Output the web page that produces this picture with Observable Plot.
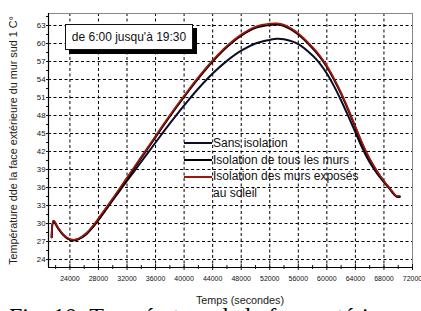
<!DOCTYPE html>
<html><head><meta charset="utf-8">
<script src="https://cdn.jsdelivr.net/npm/d3@7"></script>
<script src="https://cdn.jsdelivr.net/npm/@observablehq/plot@0.6"></script>
<style>
html,body{margin:0;padding:0;background:#fff;}
body{width:421px;height:311px;overflow:hidden;font-family:Arial,"Liberation Sans",sans-serif;}
#wrap{position:relative;width:421px;height:311px;overflow:hidden;}
#wrap svg{position:absolute;left:0;top:0;overflow:visible;}
#box{position:absolute;left:65px;top:24px;width:126px;height:24px;border:1px solid #111;background:#fff;box-shadow:4px 4px 0 #000;font-size:12px;line-height:24px;text-align:center;color:#111;white-space:nowrap;}
.ll{position:absolute;left:184px;width:28px;height:2px;}
.lt{position:absolute;left:213px;font-size:12px;line-height:16.5px;color:#111;white-space:nowrap;}
#cap{position:absolute;left:9px;top:304px;font-family:"Liberation Serif","Times New Roman",serif;font-size:24px;line-height:24px;color:#000;white-space:nowrap;}
</style>
</head><body>
<div id="wrap"></div>
<script>
// Time (s)
const times = [21450, 21700, 22300, 23000, 23700, 24400, 25200, 26200, 27400, 28500, 30000, 31500, 33000, 34500, 36000, 37500, 39000, 40500, 42000, 44000, 46000, 48000, 50000, 52000, 53000, 54000, 56000, 58000, 59000, 60000, 61000, 62000, 63000, 64000, 65000, 66000, 67000, 68000, 68800, 69400, 69800, 70200];
// Sans isolation
const sansIsolation = [27.7, 30.4, 29.3, 28.2, 27.5, 27.2, 27.4, 28.1, 29.7, 31.4, 33.9, 36.3, 38.7, 41.1, 43.5, 45.9, 48.2, 50.4, 52.5, 55.0, 57.1, 58.8, 60.0, 60.6, 60.8, 60.7, 59.9, 58.0, 56.7, 55.0, 52.9, 50.5, 47.9, 45.2, 42.5, 40.2, 38.4, 36.9, 35.8, 34.9, 34.5, 34.4];
// Isolation de tous les murs
const isolationTous = [27.7, 30.4, 29.3, 28.2, 27.5, 27.2, 27.4, 28.2, 29.7, 31.5, 34.0, 36.6, 39.2, 41.8, 44.4, 47.0, 49.5, 51.9, 54.2, 57.0, 59.4, 61.3, 62.6, 63.1, 63.15, 62.9, 61.5, 59.2, 57.8, 56.1, 54.0, 51.6, 48.9, 46.0, 43.1, 40.7, 38.7, 37.0, 35.8, 34.9, 34.5, 34.5];
// Isolation des murs exposés au soleil
const isolationSoleil = [27.7, 30.5, 29.4, 28.3, 27.6, 27.3, 27.5, 28.3, 29.9, 31.7, 34.2, 36.8, 39.4, 42.0, 44.6, 47.2, 49.7, 52.1, 54.4, 57.2, 59.6, 61.5, 62.8, 63.3, 63.35, 63.1, 61.7, 59.4, 58.0, 56.3, 54.2, 51.8, 49.1, 46.2, 43.3, 40.8, 38.8, 37.1, 35.9, 35.0, 34.6, 34.6];

const xTicks = [24000, 28000, 32000, 36000, 40000, 44000, 48000, 52000, 56000, 60000, 64000, 68000, 72000];
const xMinor = [22000, 26000, 30000, 34000, 38000, 42000, 46000, 50000, 54000, 58000, 62000, 66000, 70000];
const xGrid = [24000, 28000, 32000, 36000, 40000, 44000, 48000, 52000, 56000, 60000, 64000, 68000];
const yTicks = [24, 27, 30, 33, 36, 39, 42, 45, 48, 51, 54, 57, 60, 63];
const yMinor = [25.5, 28.5, 31.5, 34.5, 37.5, 40.5, 43.5, 46.5, 49.5, 52.5, 55.5, 58.5, 61.5, 64.5];
const xDomain = [21000, 72000];
const yDomain = [22.67, 65];

const xLabel = "Temps (secondes)";
const yLabel = "Température dde la face extérieure du mur sud 1 C°";
const boxText = "de 6:00 jusqu'à 19:30";
const seriesNames = ["Sans isolation", "Isolation de tous les murs", "Isolation des murs exposés au soleil"];
const seriesColors = ["#0c0c26", "#000000", "#a3160c"];
const caption = "Fig. 10: Température de la face extérieure";

const rows = (vals) => times.map((t, i) => ({t, v: vals[i]}));

const chart = Plot.plot({
  width: 421, height: 311,
  marginLeft: 48, marginRight: 9, marginTop: 13, marginBottom: 44,
  style: {fontFamily: "Arial, 'Liberation Sans', sans-serif", color: "#111", background: "transparent", overflow: "visible"},
  x: {domain: xDomain},
  y: {domain: yDomain},
  marks: [
    Plot.gridX(xGrid, {stroke: "#000", strokeOpacity: 1, strokeWidth: 1, strokeDasharray: "3,2.5"}),
    Plot.gridY(yTicks, {stroke: "#000", strokeOpacity: 1, strokeWidth: 1, strokeDasharray: "3,2.5"}),
    Plot.frame({stroke: "#888"}),
    Plot.ruleX([xDomain[0]], {stroke: "#000", strokeWidth: 1.2}),
    Plot.ruleY([yDomain[0]], {stroke: "#000", strokeWidth: 1.2}),
    Plot.axisX(xTicks, {tickSize: 3, tickPadding: 6, tickFormat: d => String(d), fontSize: 7, label: null}),
    Plot.axisX(xTicks, {tickSize: -3, fill: "none", label: null}),
    Plot.axisX(xMinor, {tickSize: 2, fill: "none", label: null}),
    Plot.axisX(xMinor, {tickSize: -2, fill: "none", label: null}),
    Plot.axisY(yTicks, {tickSize: 2, tickPadding: 1, fontSize: 7.8, label: null}),
    Plot.axisY(yTicks, {tickSize: -2, fill: "none", label: null}),
    Plot.axisY(yMinor.filter(v => v < yDomain[1]), {tickSize: 2, fill: "none", label: null}),
    Plot.text([yLabel], {text: d => d, frameAnchor: "left", textAnchor: "middle", lineAnchor: "middle", rotate: -90, dx: -35, fontSize: 10.8, fill: "#222"}),
    Plot.text([xLabel], {text: d => d, frameAnchor: "bottom", textAnchor: "middle", lineAnchor: "middle", dy: 33, dx: 9.5, fontSize: 10.8, fill: "#222"}),
    Plot.line(rows(sansIsolation), {x: "t", y: "v", stroke: seriesColors[0], strokeWidth: 2, curve: "catmull-rom"}),
    Plot.line(rows(isolationTous), {x: "t", y: "v", stroke: seriesColors[1], strokeWidth: 2, curve: "catmull-rom"}),
    Plot.line(rows(isolationSoleil), {x: "t", y: "v", stroke: seriesColors[2], strokeWidth: 1.7, curve: "catmull-rom"})
  ]
});

const wrap = document.getElementById("wrap");
wrap.appendChild(chart);

const box = document.createElement("div");
box.id = "box"; box.textContent = boxText; wrap.appendChild(box);

const legendTops = [134.5, 151.5, 168];
seriesNames.forEach((name, i) => {
  const l = document.createElement("div");
  l.className = "ll"; l.style.top = (legendTops[i] + 7.5) + "px"; l.style.background = seriesColors[i];
  wrap.appendChild(l);
  const t = document.createElement("div");
  t.className = "lt"; t.style.top = legendTops[i] + "px";
  if (i === 2) { t.innerHTML = "Isolation des murs exposés<br>au soleil"; } else { t.textContent = name; }
  wrap.appendChild(t);
});

const cap = document.createElement("div");
cap.id = "cap"; cap.textContent = caption; wrap.appendChild(cap);
</script>
</body></html>
